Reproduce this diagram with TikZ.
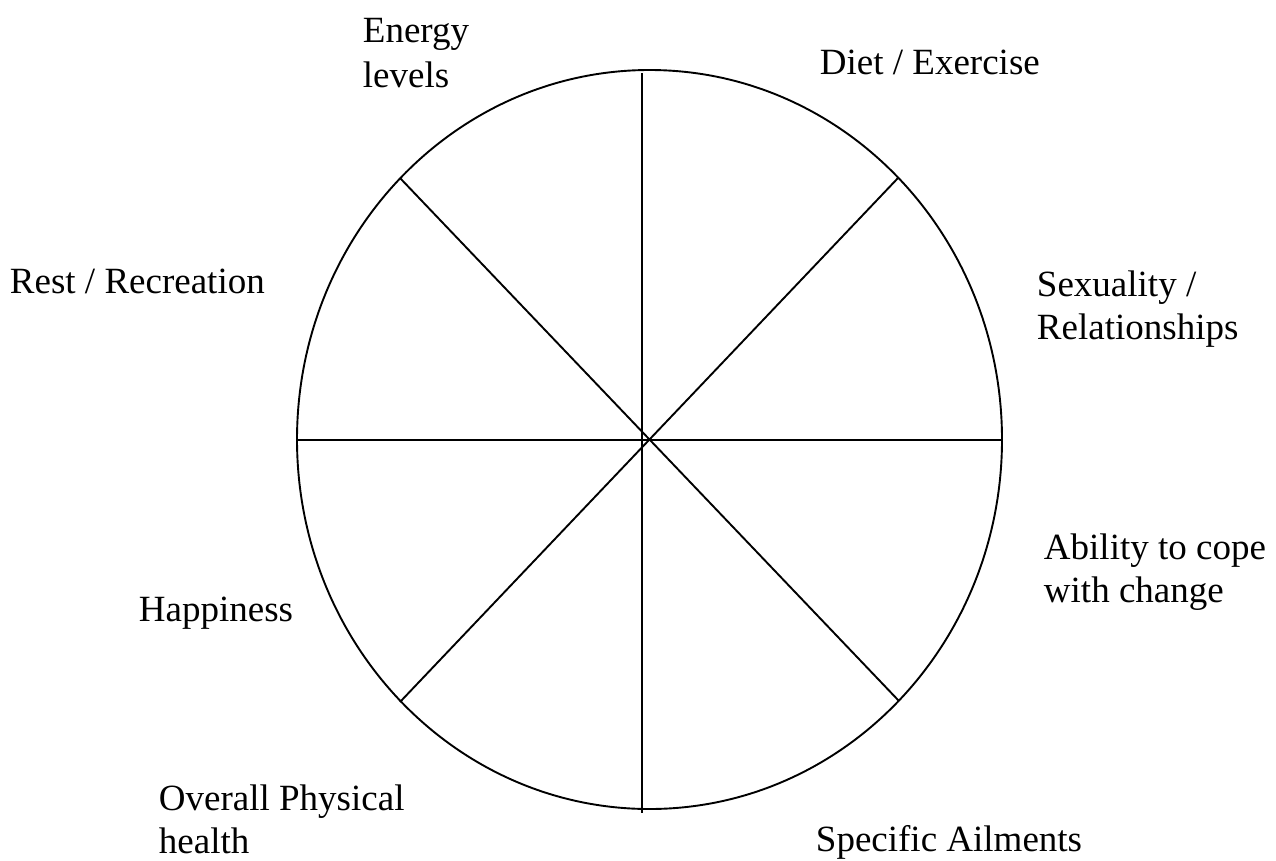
\documentclass[tikz,border=0pt]{standalone}
\usepackage{fontspec}
\setmainfont{Liberation Serif}
\begin{document}
\begin{tikzpicture}[x=1pt, y=-1pt, line width=1.9pt,
			lbl/.style={anchor=base west, inner sep=0pt, align=left,
				font=\fontsize{37}{43}\selectfont}]
			\useasboundingbox (0,0) rectangle (1276,860);
			% wheel
			\draw (649.5,439.5) ellipse [x radius=352.5, y radius=369.5];
			\coordinate (T) at (641.7,73);
			\coordinate (B) at (641.7,813);
			\coordinate (L) at (297,440);
			\coordinate (R) at (1002,440);
			\coordinate (TL) at (400,178);
			\coordinate (TR) at (898,178);
			\coordinate (BL) at (400,702);
			\coordinate (BR) at (899,701);
			% spokes
			\foreach \a/\b in {T/B,L/R,TL/BR,TR/BL}{
				\draw (\a)--(\b);
			}
			% labels (base = last line)
			\node[lbl, font=\fontsize{37}{45}\selectfont] (energy) at (362,87) {Energy\\levels};
			\node[lbl] (diet) at (819,74) {Diet / Exercise};
			\node[lbl] (rest) at (9,293) {Rest / Recreation};
			\node[lbl] (sex) at (1036,339) {Sexuality /\\Relationships};
			\node[lbl] (cope) at (1043,602) {Ability to cope\\with change};
			\node[lbl] (happy) at (138,621) {Happiness};
			\node[lbl] (phys) at (158,853) {Overall Physical\\health};
			\node[lbl] (ail) at (815,851) {Specific Ailments};
		\end{tikzpicture}
\end{document}
